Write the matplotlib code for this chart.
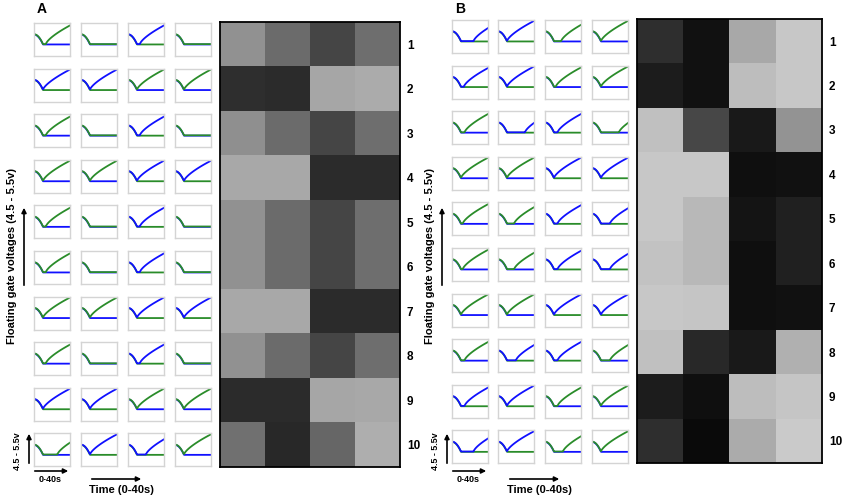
import numpy as np
import matplotlib
matplotlib.use("Agg")
import matplotlib.pyplot as plt

plt.rcParams['font.family'] = ['Liberation Sans', 'DejaVu Sans']

W, H = 843, 499

# heatmap brightness (0 = black, 1 = white), 10 rows x 4 columns
heat_a = [
    [0.57, 0.42, 0.27, 0.43],
    [0.18, 0.17, 0.65, 0.67],
    [0.56, 0.42, 0.27, 0.43],
    [0.66, 0.66, 0.17, 0.17],
    [0.57, 0.42, 0.27, 0.43],
    [0.57, 0.42, 0.27, 0.43],
    [0.66, 0.66, 0.17, 0.17],
    [0.57, 0.42, 0.27, 0.43],
    [0.17, 0.17, 0.65, 0.66],
    [0.44, 0.16, 0.40, 0.68],
]
heat_b = [
    [0.18, 0.07, 0.66, 0.78],
    [0.11, 0.07, 0.74, 0.78],
    [0.75, 0.28, 0.10, 0.58],
    [0.78, 0.78, 0.06, 0.07],
    [0.78, 0.72, 0.08, 0.13],
    [0.76, 0.72, 0.06, 0.13],
    [0.78, 0.77, 0.06, 0.07],
    [0.75, 0.16, 0.10, 0.69],
    [0.11, 0.06, 0.74, 0.77],
    [0.18, 0.04, 0.67, 0.79],
]

# which trace rises in each small panel ('g', 'b' or '-' for none) and when
winner_a = [
    ['g', '-', 'b', '-'],
    ['b', 'b', 'g', 'g'],
    ['g', '-', 'b', '-'],
    ['g', 'g', 'b', 'b'],
    ['g', '-', 'b', '-'],
    ['g', '-', 'b', '-'],
    ['g', 'g', 'b', 'b'],
    ['g', '-', 'b', '-'],
    ['b', 'b', 'g', 'g'],
    ['g', 'b', 'b', 'g'],
]
onset_a = [
    [0.33, 0, 0.33, 0],
    [0.25, 0.25, 0.25, 0.25],
    [0.33, 0, 0.33, 0],
    [0.25, 0.25, 0.25, 0.25],
    [0.33, 0, 0.33, 0],
    [0.33, 0, 0.33, 0],
    [0.25, 0.25, 0.25, 0.25],
    [0.33, 0, 0.33, 0],
    [0.25, 0.25, 0.25, 0.25],
    [0.65, 0.25, 0.50, 0.25],
]
winner_b = [
    ['b', 'b', 'g', 'g'],
    ['b', 'b', 'g', 'g'],
    ['g', 'b', 'b', 'g'],
    ['g', 'g', 'b', 'b'],
    ['g', 'g', 'b', 'b'],
    ['g', 'g', 'b', 'b'],
    ['g', 'g', 'b', 'b'],
    ['g', 'b', 'b', 'g'],
    ['b', 'b', 'g', 'g'],
    ['b', 'b', 'g', 'g'],
]
onset_b = [
    [0.60, 0.25, 0.45, 0.25],
    [0.33, 0.25, 0.30, 0.25],
    [0.35, 0.75, 0.35, 0.75],
    [0.25, 0.25, 0.25, 0.25],
    [0.30, 0.45, 0.35, 0.50],
    [0.30, 0.45, 0.35, 0.50],
    [0.25, 0.25, 0.25, 0.25],
    [0.35, 0.50, 0.35, 0.50],
    [0.35, 0.25, 0.35, 0.25],
    [0.60, 0.25, 0.50, 0.25],
]
row_labels = [str(i) for i in range(1, 11)]

BLUE = '#1010ff'
GREEN = '#2a8c2a'
T_DIP, Y0, YMIN = 0.25, 0.66, 0.36


def trace(t, onset):
    # common discharge, then optional rise after onset
    y = np.where(t < T_DIP, YMIN + (Y0 - YMIN) * (1 - (t / T_DIP) ** 2), YMIN)
    if onset > 0:
        y = np.where(t > onset, YMIN + 0.75 * np.clip(t - onset, 0, None) ** 0.7, y)
    return y


def px_axes(fig, x0, y0, w, h):
    return fig.add_axes([x0 / W, 1 - (y0 + h) / H, w / W, h / H])


def small_panels(fig, lefts, top0, winners, onsets):
    t = np.linspace(0, 1, 80)
    for i in range(10):
        for j in range(4):
            ax = px_axes(fig, lefts[j], top0 + 45.6 * i, 36, 33)
            w, on = winners[i][j], onsets[i][j]
            yb = trace(t, on if w == 'b' else 0)
            yg = trace(t, on if w == 'g' else 0)
            if w == 'b':
                ax.plot(t, yg - 0.01, color=GREEN, lw=1.3)
                ax.plot(t, yb, color=BLUE, lw=1.3)
            else:
                ax.plot(t, yb - 0.01, color=BLUE, lw=1.3)
                ax.plot(t, yg, color=GREEN, lw=1.3)
            ax.set_xlim(0, 1)
            ax.set_ylim(0, 1)
            ax.set_xticks([])
            ax.set_yticks([])
            for s in ax.spines.values():
                s.set_color('#d4d4d4')
                s.set_linewidth(1.0)


def heatmap(fig, x0, y0, w, h, vals):
    ax = px_axes(fig, x0, y0, w, h)
    ax.imshow(np.array(vals), cmap='gray', vmin=0, vmax=1, aspect='auto',
              interpolation='nearest')
    ax.set_xticks([])
    ax.yaxis.tick_right()
    ax.set_yticks(range(10))
    ax.set_yticklabels(row_labels, fontsize=8.5, fontweight='bold')
    ax.tick_params(axis='y', length=0, pad=5)
    for s in ax.spines.values():
        s.set_linewidth(1.3)


def arrow(fig, x1, y1, x2, y2):
    fig.add_artist(matplotlib.patches.FancyArrowPatch(
        (x1 / W, 1 - y1 / H), (x2 / W, 1 - y2 / H), transform=fig.transFigure,
        arrowstyle='-|>', mutation_scale=7, lw=1.2, color='black'))


def ftext(fig, x, y, s, **kw):
    fig.text(x / W, 1 - y / H, s, fontweight='bold', **kw)


fig = plt.figure(figsize=(W / 100, H / 100), dpi=100)

small_panels(fig, [34, 81, 128, 175], 23, winner_a, onset_a)
heatmap(fig, 220, 22, 180, 445, heat_a)
small_panels(fig, [452, 498, 545, 592], 20, winner_b, onset_b)
heatmap(fig, 637, 19, 185, 444, heat_b)

for dx, lab in [(0, 'A'), (418, 'B')]:
    ftext(fig, 42 + dx, 9, lab, fontsize=10, ha='center', va='center')
    ftext(fig, 12 + dx, 256, 'Floating gate voltages (4.5 - 5.5v)', fontsize=8,
          rotation=90, ha='center', va='center')
    arrow(fig, 24 + dx, 288, 24 + dx, 205)
    ftext(fig, 18 + dx, 451, '4.5 - 5.5v', fontsize=6.5, rotation=90,
          ha='center', va='center')
    arrow(fig, 29 + dx, 466, 29 + dx, 431)
    arrow(fig, 32 + dx, 471, 71 + dx, 471)
    ftext(fig, 50 + dx, 480, '0-40s', fontsize=6.5, ha='center', va='center')
    arrow(fig, 89 + dx, 479, 144 + dx, 479)
    ftext(fig, 121 + dx, 490, 'Time (0-40s)', fontsize=8, ha='center', va='center')

fig.savefig('out.png', dpi=100)
